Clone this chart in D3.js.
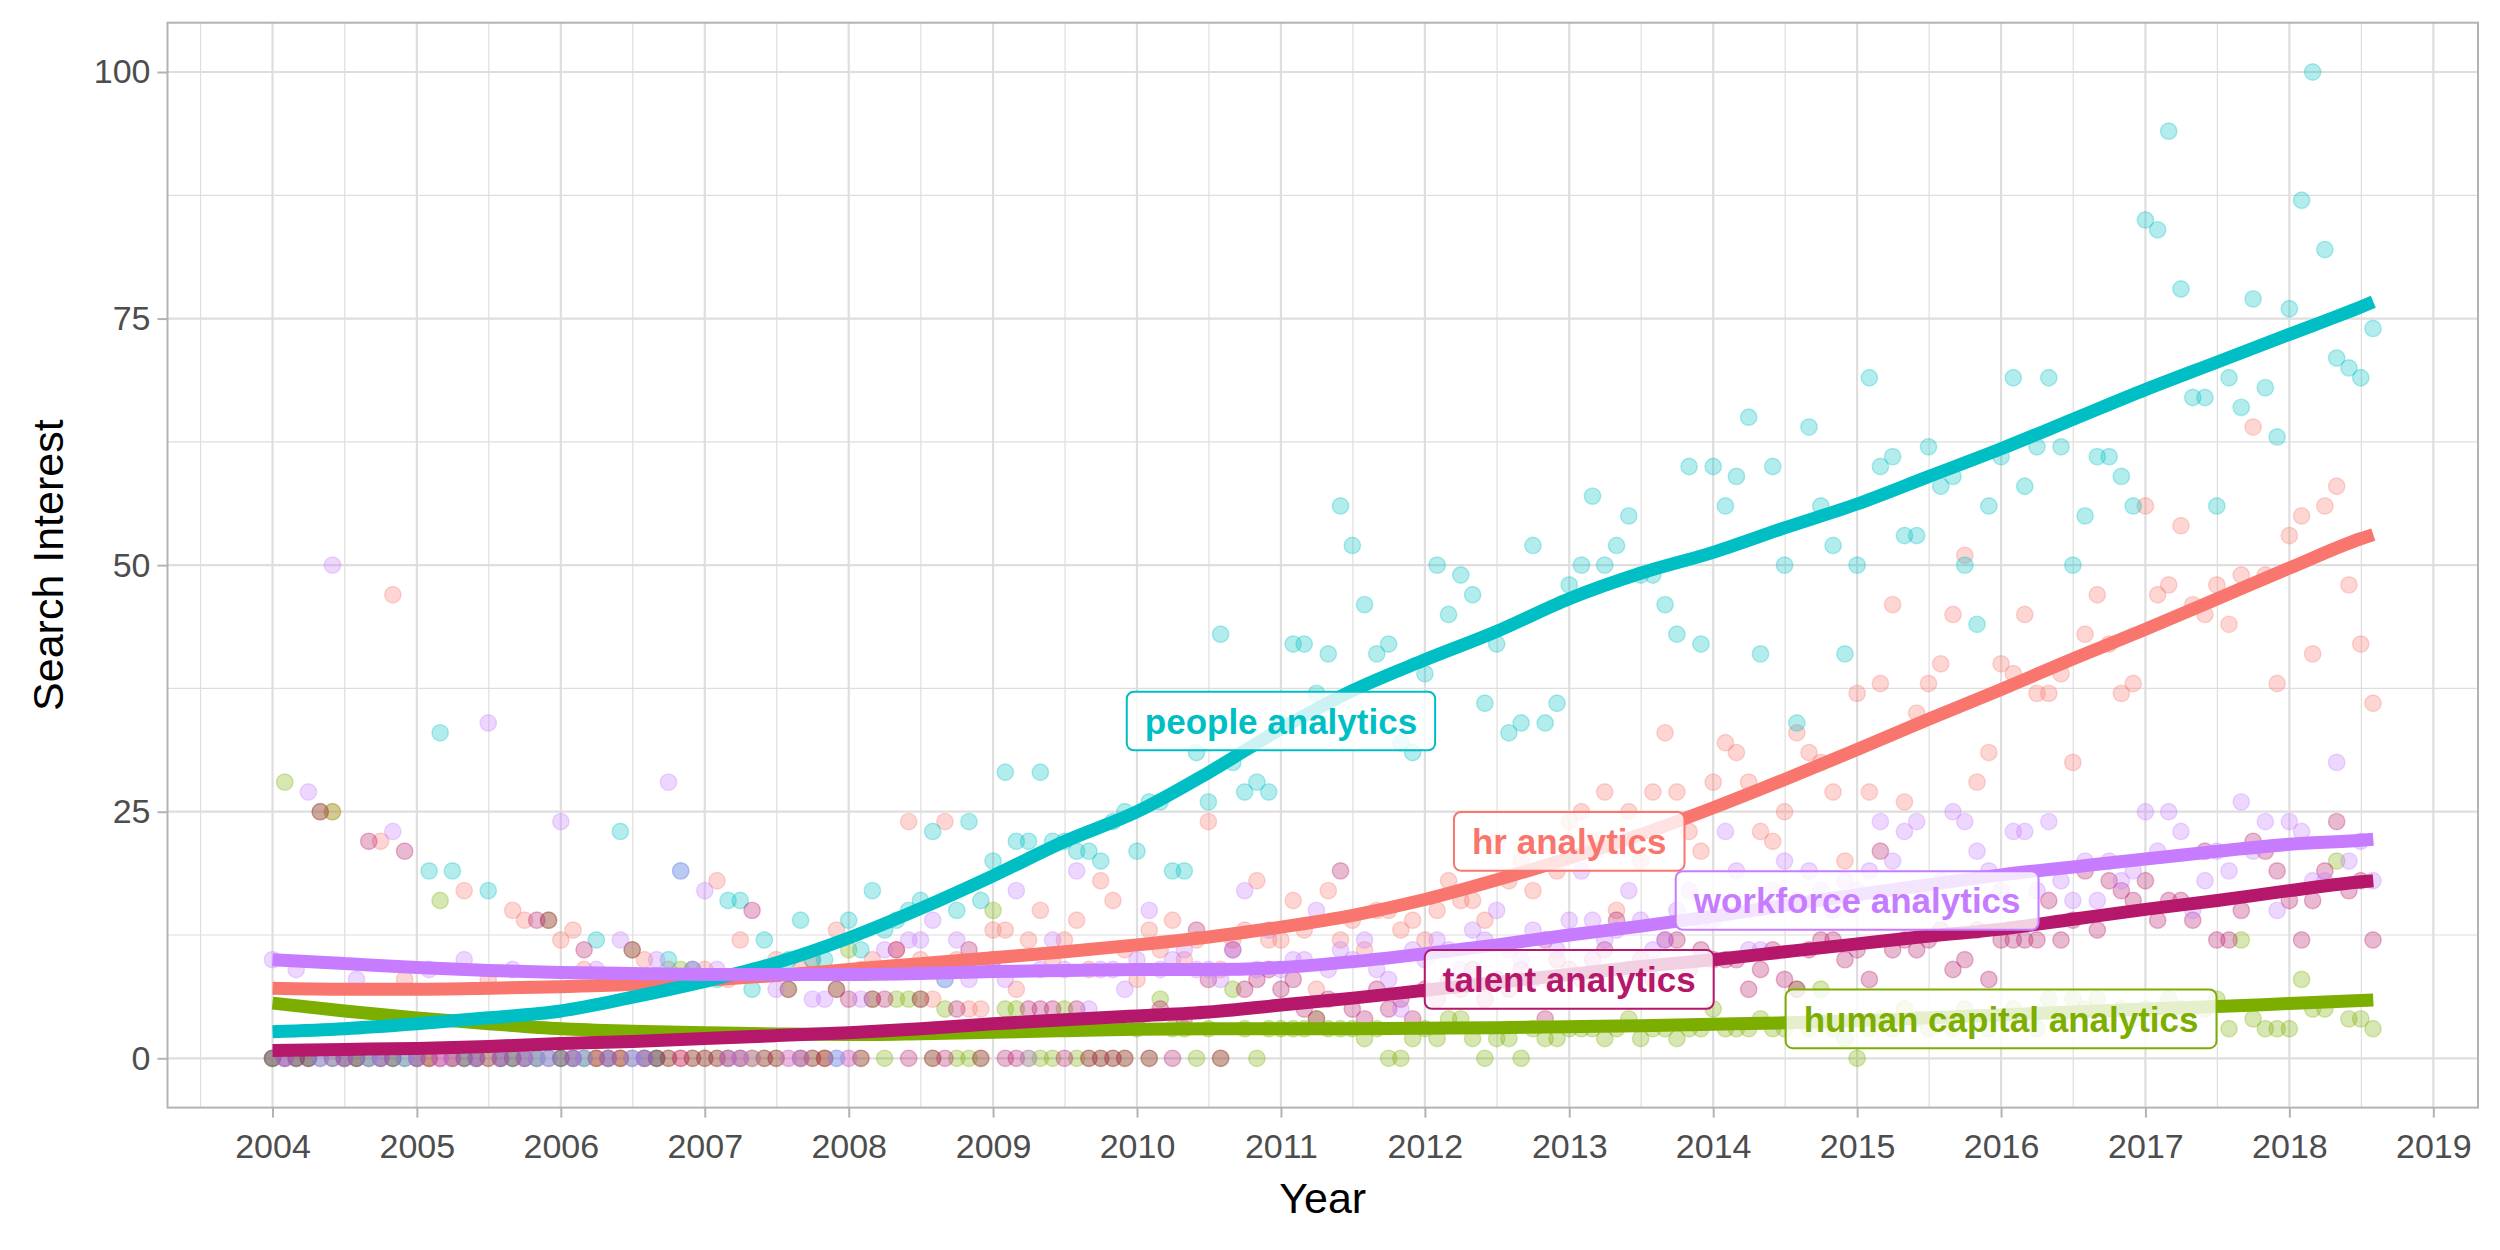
<!DOCTYPE html>
<html>
<head>
<meta charset="utf-8">
<title>Search Interest</title>
<script src="https://d3js.org/d3.v7.min.js"></script>
<style>
  * { margin: 0; padding: 0; }
  body { background: #fff; }
  svg { display: block; font-family: "Liberation Sans", Arial, sans-serif; }
</style>
</head>
<body>
<div id="chart"></div>
<script>
// monthly series, Jan 2004 .. Aug 2018
const terms = ["hr analytics", "human capital analytics", "people analytics", "talent analytics", "workforce analytics"];
const termColors = ["#F8766D", "#7CAE00", "#00BFC4", "#B5176B", "#C77CFF"];

const hrAnalytics = [
  0,0,0,0,0,25,0,0,0,22,47,8,
  0,0,0,0,17,0,8,0,15,14,0,0,
  12,13,9,0,8,0,0,10,0,9,0,9,
  9,18,8,12,0,9,10,0,9,10,0,13,
  0,9,10,9,11,24,10,6,24,10,5,5,
  13,13,7,12,15,10,12,14,9,18,16,11,
  8,13,11,14,10,12,24,9,12,13,18,12,
  12,16,13,7,17,12,14,11,15,15,13,14,
  12,15,18,16,16,14,22,18,20,17,12,19,
  24,25,22,27,15,25,20,27,33,27,23,21,
  28,32,31,28,23,22,25,33,31,30,27,20,
  37,27,38,46,26,35,38,40,45,51,28,31,
  40,39,45,37,37,39,30,43,47,42,37,38,
  56,47,48,54,46,45,48,44,49,64,49,38,
  53,55,41,56,58,48,42,36
];
const humanCapitalAnalytics = [
  0,28,0,0,25,25,0,0,0,0,0,0,
  0,0,16,0,0,0,0,0,0,0,0,14,
  0,0,0,0,0,0,11,0,0,0,9,0,
  0,0,0,0,0,0,0,7,0,0,0,7,
  11,0,6,0,6,6,6,0,5,0,0,0,
  15,5,5,0,0,0,5,0,0,0,0,0,
  3,0,6,3,3,0,3,0,7,3,0,3,
  3,3,3,4,3,3,3,2,3,0,0,2,
  3,2,4,4,2,0,2,2,0,3,2,2,
  3,3,3,2,3,4,2,3,3,2,3,3,
  5,3,3,3,4,3,3,7,3,7,3,2,
  0,3,4,3,5,4,3,4,3,5,4,3,
  4,5,4,3,6,4,6,5,6,4,5,4,
  5,4,6,5,5,5,6,3,12,4,3,3,
  3,8,5,5,20,4,4,3
];
const peopleAnalytics = [
  0,0,0,0,0,0,0,0,0,0,0,0,
  0,19,33,19,0,0,17,0,0,0,0,0,
  0,0,0,12,0,23,0,0,0,10,19,9,
  8,8,16,16,7,12,9,10,14,10,10,0,
  14,11,17,13,14,15,16,23,8,15,24,16,
  20,29,22,22,29,22,22,21,21,20,24,25,
  21,26,26,19,19,31,26,43,30,27,28,27,
  34,42,42,37,41,56,52,46,41,42,32,31,
  39,50,45,49,47,36,42,33,34,52,34,36,
  48,50,57,50,52,55,49,49,46,43,60,42,
  60,56,59,65,41,60,50,34,64,56,52,41,
  50,69,60,61,53,53,62,58,59,50,44,56,
  61,69,58,62,69,62,50,55,61,61,59,56,
  85,84,94,78,67,67,56,69,66,77,68,63,
  76,87,100,82,71,70,69,74
];
const talentAnalytics = [
  0,0,0,0,25,0,0,0,22,0,0,21,
  0,0,0,0,0,0,0,0,0,0,14,14,
  0,0,11,0,0,0,11,0,0,0,0,0,
  0,0,0,0,15,0,0,7,0,0,0,7,
  6,0,6,6,11,0,6,0,0,5,11,0,
  10,0,0,5,5,5,0,5,0,0,0,0,
  4,0,5,0,4,13,8,0,11,7,8,9,
  7,8,5,4,6,19,5,4,7,5,6,4,
  7,6,8,7,9,6,8,7,9,8,4,10,
  9,8,10,11,14,9,10,8,12,12,9,11,
  10,10,10,7,9,11,8,7,11,12,12,10,
  11,8,21,11,12,11,12,13,9,10,13,8,
  12,12,12,12,16,12,14,19,13,18,17,16,
  18,14,16,16,14,21,12,12,15,22,21,19,
  16,12,16,19,24,17,18,12
];
const workforceAnalytics = [
  10,0,9,27,0,50,0,8,0,0,23,0,
  0,9,0,0,10,0,34,0,9,0,0,0,
  24,0,0,9,0,12,0,0,10,28,19,9,
  17,9,0,0,0,9,7,0,0,6,6,0,
  0,6,9,11,9,12,12,14,8,12,8,9,
  9,8,17,0,9,12,9,19,5,9,9,7,
  10,15,9,10,11,9,9,8,11,17,9,13,
  9,10,10,15,9,11,10,12,9,8,5,11,
  10,12,11,9,13,12,15,11,10,13,12,11,
  14,19,14,12,13,17,14,11,12,15,17,14,
  14,23,19,11,11,17,20,16,19,17,15,18,
  17,19,24,20,23,24,16,18,25,24,21,19,
  17,23,23,17,24,18,16,20,16,20,18,19,
  25,21,25,23,15,18,21,19,26,21,24,15,
  24,23,18,18,30,20,22,18
];

// smoothed trend (loess) read at half-year knots
const smoothYears = [2004,2004.5,2005,2005.5,2006,2006.5,2007,2007.5,2008,2008.5,2009,2009.5,2010,2010.5,2011,2011.5,
  2012,2012.5,2013,2013.5,2014,2014.5,2015,2015.5,2016,2016.5,2017,2017.5,2018,2018.5,2018.583];
const hrSmooth = [7.1,7.0,7.0,7.1,7.25,7.5,7.9,8.4,9.0,9.6,10.2,10.8,11.5,12.3,13.3,14.5,
  16.1,18.1,20.3,22.7,25.4,28.3,31.3,34.4,37.4,40.5,43.5,46.6,49.7,52.7,53.1];
const humanCapitalSmooth = [5.6,4.8,4.1,3.5,3.0,2.75,2.6,2.45,2.4,2.5,2.65,2.8,2.95,3.0,3.0,3.0,
  3.05,3.1,3.2,3.3,3.45,3.6,3.8,4.1,4.4,4.7,5.0,5.25,5.55,5.85,5.9];
const peopleSmooth = [2.7,3.0,3.5,4.1,4.8,6.2,7.8,9.7,12.2,15.2,18.5,22.0,25.0,29.0,33.4,37.3,
  40.4,43.3,46.6,49.2,51.3,53.8,56.2,59.0,61.8,64.8,67.8,70.6,73.4,76.2,76.7];
const talentSmooth = [0.8,0.9,1.0,1.2,1.5,1.7,2.0,2.3,2.6,3.0,3.5,3.9,4.3,4.7,5.4,6.1,
  6.9,7.7,8.5,9.3,10.0,10.8,11.6,12.4,13.1,14.1,15.1,16.0,17.0,17.9,18.0];
const workforceSmooth = [10.0,9.6,9.2,8.9,8.7,8.6,8.5,8.5,8.5,8.6,8.8,8.9,9.0,9.0,9.2,9.8,
  10.6,11.5,12.5,13.4,14.4,15.5,16.6,17.6,18.6,19.4,20.2,21.0,21.7,22.1,22.2];

const labelYears = [2013, 2016, 2011, 2013, 2015];
const labelValues = [22, 4, 34.2, 8, 16];

const yTicks = [0, 25, 50, 75, 100];
const yMinor = [12.5, 37.5, 62.5, 87.5];
const xTickYears = d3.range(2004, 2020);

const seriesValues = [hrAnalytics, humanCapitalAnalytics, peopleAnalytics, talentAnalytics, workforceAnalytics];
const seriesSmooth = [hrSmooth, humanCapitalSmooth, peopleSmooth, talentSmooth, workforceSmooth];

// ---- layout
const W = 2500, H = 1250;
const panel = {left: 167.5, right: 2478, top: 22.7, bottom: 1107.6};

function yearToDate(y) {
  const y0 = Math.floor(y);
  const a = Date.UTC(y0, 0, 1), b = Date.UTC(y0 + 1, 0, 1);
  return new Date(a + (y - y0) * (b - a));
}
const monthDate = i => new Date(Date.UTC(2004, i, 1));

const start = monthDate(0), end = monthDate(hrAnalytics.length - 1);
const span = end - start;
const x = d3.scaleUtc()
  .domain([new Date(+start - 0.05 * span), new Date(+end + 0.05 * span)])
  .range([panel.left, panel.right]);
const y = d3.scaleLinear().domain([-5, 105]).range([panel.bottom, panel.top]);

const svg = d3.select("#chart").append("svg")
  .attr("width", W).attr("height", H)
  .attr("viewBox", `0 0 ${W} ${H}`);

svg.append("rect").attr("width", W).attr("height", H).attr("fill", "#fff");

// grid
const grid = svg.append("g");
const xMajor = xTickYears.map(yr => new Date(Date.UTC(yr, 0, 1)));
const xMinorDates = d3.range(2003, 2020).map(yr => new Date((Date.UTC(yr, 0, 1) + Date.UTC(yr + 1, 0, 1)) / 2))
  .filter(d => d >= x.domain()[0] && d <= x.domain()[1]);

grid.selectAll(".ymin").data(yMinor).join("line")
  .attr("x1", panel.left).attr("x2", panel.right)
  .attr("y1", d => y(d)).attr("y2", d => y(d))
  .attr("stroke", "#DEDEDE").attr("stroke-width", 1.2);
grid.selectAll(".xmin").data(xMinorDates).join("line")
  .attr("y1", panel.top).attr("y2", panel.bottom)
  .attr("x1", d => x(d)).attr("x2", d => x(d))
  .attr("stroke", "#DEDEDE").attr("stroke-width", 1.2);
grid.selectAll(".ymaj").data(yTicks).join("line")
  .attr("x1", panel.left).attr("x2", panel.right)
  .attr("y1", d => y(d)).attr("y2", d => y(d))
  .attr("stroke", "#DEDEDE").attr("stroke-width", 2.2);
grid.selectAll(".xmaj").data(xMajor).join("line")
  .attr("y1", panel.top).attr("y2", panel.bottom)
  .attr("x1", d => x(d)).attr("x2", d => x(d))
  .attr("stroke", "#DEDEDE").attr("stroke-width", 2.2);

// points
const pts = svg.append("g");
seriesValues.forEach((vals, s) => {
  pts.append("g").selectAll("circle").data(vals).join("circle")
    .attr("cx", (d, i) => x(monthDate(i)))
    .attr("cy", d => y(d))
    .attr("r", 8.2)
    .attr("fill", termColors[s]).attr("fill-opacity", 0.3)
    .attr("stroke", termColors[s]).attr("stroke-opacity", 0.3).attr("stroke-width", 1.4);
});

// smooth lines
const line = d3.line()
  .x((d, i) => x(yearToDate(smoothYears[i])))
  .y(d => y(d))
  .curve(d3.curveMonotoneX);
seriesSmooth.forEach((vals, s) => {
  svg.append("path").attr("d", line(vals))
    .attr("fill", "none").attr("stroke", termColors[s])
    .attr("stroke-width", 13).attr("stroke-linecap", "butt");
});

// panel border
svg.append("rect")
  .attr("x", panel.left).attr("y", panel.top)
  .attr("width", panel.right - panel.left).attr("height", panel.bottom - panel.top)
  .attr("fill", "none").attr("stroke", "#B3B3B3").attr("stroke-width", 2);

// axes
const yAxis = svg.append("g").attr("transform", `translate(${panel.left},0)`)
  .call(d3.axisLeft(y).tickValues(yTicks).tickSize(10).tickPadding(7));
const xAxis = svg.append("g").attr("transform", `translate(0,${panel.bottom})`)
  .call(d3.axisBottom(x).tickValues(xMajor).tickFormat(d3.utcFormat("%Y")).tickSize(10).tickPadding(16));
[xAxis, yAxis].forEach(a => {
  a.select(".domain").remove();
  a.selectAll(".tick line").attr("stroke", "#B3B3B3").attr("stroke-width", 2);
  a.selectAll(".tick text").attr("fill", "#4D4D4D")
    .style("font-size", "34px").style("font-family", "'Liberation Sans', Arial, sans-serif");
});

svg.append("text")
  .attr("x", (panel.left + panel.right) / 2).attr("y", 1213)
  .attr("text-anchor", "middle").attr("fill", "#000")
  .style("font-size", "43px").text("Year");
svg.append("text")
  .attr("transform", `translate(63,${(panel.top + panel.bottom) / 2}) rotate(-90)`)
  .attr("text-anchor", "middle").attr("fill", "#000")
  .style("font-size", "43px").text("Search Interest");

// labels
terms.forEach((t, s) => {
  const g = svg.append("g")
    .attr("transform", `translate(${x(yearToDate(labelYears[s]))},${y(labelValues[s])})`);
  const rect = g.append("rect");
  const txt = g.append("text")
    .attr("text-anchor", "middle").attr("y", 13)
    .attr("fill", termColors[s])
    .style("font-size", "35px").style("font-weight", "bold")
    .text(t);
  const w = txt.node().getComputedTextLength() + 36;
  const h = 58.7;
  rect.attr("x", -w / 2).attr("y", -h / 2).attr("width", w).attr("height", h)
    .attr("rx", 7).attr("ry", 7)
    .attr("fill", "#fff").attr("fill-opacity", 0.8)
    .attr("stroke", termColors[s]).attr("stroke-width", 2);
});
</script>
</body>
</html>
